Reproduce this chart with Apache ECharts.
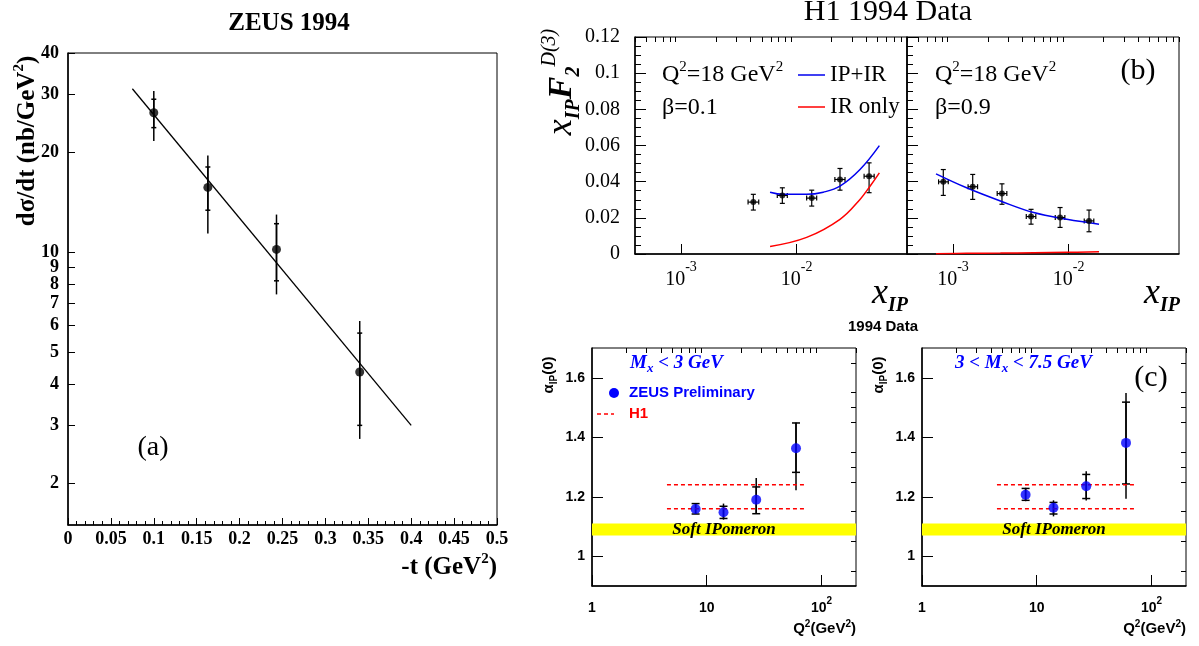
<!DOCTYPE html>
<html>
<head>
<meta charset="utf-8">
<script src="https://cdn.jsdelivr.net/npm/echarts@6/dist/echarts.min.js"></script>
<style>html,body{margin:0;padding:0;background:#fff}#main{width:1199px;height:646px}</style>
</head>
<body>
<div id="main"></div>
<script>
var serif = "'Liberation Serif', 'Times New Roman', serif";
var sans = "'Liberation Sans', Arial, sans-serif";

// ---------- (a) ZEUS 1994 dsigma/dt ----------
var tVals = [0.1, 0.163, 0.243, 0.34];
var dsdt = [26.4, 15.7, 10.2, 4.35];
var dsdtStatLo = [23.8, 13.4, 8.2, 3.0];
var dsdtStatHi = [29.0, 18.1, 12.2, 5.7];
var dsdtTotLo = [21.7, 11.4, 7.46, 2.73];
var dsdtTotHi = [30.7, 19.6, 13.0, 6.2];
var fitT = [0.075, 0.4];
var fitVals = [31.2, 3.0];
var aYTicks = [2, 3, 4, 5, 6, 7, 8, 9, 10, 20, 30, 40];

// ---------- (b) H1 1994 F2D3 ----------
var b1X = [0.00422, 0.00752, 0.0135, 0.0237, 0.0423];
var b1XLo = [0.0038, 0.0068, 0.0122, 0.0214, 0.0383];
var b1XHi = [0.0047, 0.0083, 0.0149, 0.0262, 0.0468];
var b1F = [0.0287, 0.0324, 0.0309, 0.0412, 0.043];
var b1FLo = [0.0243, 0.028, 0.0265, 0.0353, 0.0339];
var b1FHi = [0.033, 0.0366, 0.0353, 0.0473, 0.0504];
var b1CurveX = [0.00589, 0.00767, 0.0122, 0.017, 0.0237, 0.0353, 0.0519];
var b1Total = [0.0342, 0.033, 0.033, 0.0342, 0.0375, 0.0467, 0.0599];
var b1RedX = [0.00589, 0.0122, 0.0237, 0.0353, 0.0431, 0.0519];
var b1Red = [0.0042, 0.0092, 0.0192, 0.0302, 0.0375, 0.0449];

var b2X = [0.000824, 0.00148, 0.00265, 0.00473, 0.00843, 0.015];
var b2XLo = [0.00075, 0.00135, 0.00241, 0.0043, 0.00766, 0.01364];
var b2XHi = [0.00091, 0.00163, 0.00292, 0.0052, 0.00927, 0.0165];
var b2F = [0.0399, 0.0372, 0.0334, 0.0207, 0.0202, 0.0183];
var b2FLo = [0.0324, 0.0302, 0.0275, 0.0165, 0.0147, 0.0123];
var b2FHi = [0.0467, 0.044, 0.0388, 0.0247, 0.0257, 0.0243];
var b2CurveX = [0.000713, 0.00131, 0.00257, 0.00499, 0.00964, 0.0183];
var b2Total = [0.0443, 0.0366, 0.0293, 0.0229, 0.0192, 0.0165];
var b2Red = [0.0002, 0.0004, 0.0005, 0.0007, 0.0009, 0.0012];

var bDecades = [0.001, 0.01];
var bMinor = [0.0004, 0.0005, 0.0006, 0.0007, 0.0008, 0.0009,
  0.002, 0.003, 0.004, 0.005, 0.006, 0.007, 0.008, 0.009,
  0.02, 0.03, 0.04, 0.05, 0.06, 0.07, 0.08, 0.09];

// ---------- (c) alpha_IP(0) ----------
var q2 = [8, 14, 27, 60];
var c1Alpha = [1.159, 1.148, 1.19, 1.363];
var c1StatLo = [1.142, 1.127, 1.143, 1.282];
var c1StatHi = [1.177, 1.168, 1.233, 1.448];
var c1TotLo = [1.142, 1.123, 1.143, 1.222];
var c1TotHi = [1.179, 1.177, 1.263, 1.45];
var c2Alpha = [1.207, 1.163, 1.235, 1.381];
var c2StatLo = [1.188, 1.142, 1.194, 1.243];
var c2StatHi = [1.228, 1.181, 1.275, 1.518];
var c2TotLo = [1.185, 1.134, 1.187, 1.193];
var c2TotHi = [1.23, 1.188, 1.286, 1.549];
var h1Q2 = [4.5, 72];
var h1Lo = [1.16, 1.16];
var h1Hi = [1.24, 1.24];
var softBand = [1.07, 1.11];
var cDecades = [1, 10, 100];
var cMinorX = [2, 3, 4, 5, 6, 7, 8, 9, 20, 30, 40, 50, 60, 70, 80, 90, 200];
var cYTicks = [1, 1.2, 1.4, 1.6];
var cYMinor = [0.95, 1.05, 1.1, 1.15, 1.25, 1.3, 1.35, 1.45, 1.5, 1.55, 1.65];

function pts(xs, ys) { return xs.map(function (x, i) { return [x, ys[i]]; }); }
function bars(xs, lo, hi) { return xs.map(function (x, i) { return [x, lo[i], hi[i]]; }); }
function hbars(lo, hi, ys) { return ys.map(function (y, i) { return [lo[i], hi[i], y]; }); }

function vErr(cap, w) {
  return function (params, api) {
    var x = api.value(0);
    var a = api.coord([x, api.value(1)]);
    var b = api.coord([x, api.value(2)]);
    var st = { stroke: '#000', lineWidth: w };
    var ch = [{ type: 'line', shape: { x1: a[0], y1: a[1], x2: b[0], y2: b[1] }, style: st }];
    if (cap) {
      ch.push({ type: 'line', shape: { x1: a[0] - cap, y1: a[1], x2: a[0] + cap, y2: a[1] }, style: st });
      ch.push({ type: 'line', shape: { x1: b[0] - cap, y1: b[1], x2: b[0] + cap, y2: b[1] }, style: st });
    }
    return { type: 'group', children: ch };
  };
}
function hErr(cap, w) {
  return function (params, api) {
    var y = api.value(2);
    var a = api.coord([api.value(0), y]);
    var b = api.coord([api.value(1), y]);
    var st = { stroke: '#000', lineWidth: w };
    return { type: 'group', children: [
      { type: 'line', shape: { x1: a[0], y1: a[1], x2: b[0], y2: b[1] }, style: st },
      { type: 'line', shape: { x1: a[0], y1: a[1] - cap, x2: a[0], y2: a[1] + cap }, style: st },
      { type: 'line', shape: { x1: b[0], y1: b[1] - cap, x2: b[0], y2: b[1] + cap }, style: st }
    ] };
  };
}
function band(params, api) {
  var cs = params.coordSys;
  var y1 = api.coord([1, api.value(0)])[1];
  var y2 = api.coord([1, api.value(1)])[1];
  return { type: 'rect', shape: { x: cs.x, y: y2, width: cs.width, height: y1 - y2 }, style: { fill: '#ffff00' } };
}

var black = { color: '#000', width: 1.5 };
function powLabel(v) { return '{m|10}{s|' + Math.round(Math.log10(v)) + '}'; }
function cLabel(v) { return v === 100 ? '{m|10}{s|2}' : '{m|' + v + '}'; }

function bXAxis(g) {
  return [{
    gridIndex: g, type: 'log', min: 0.0004, max: 0.09,
    axisLine: { lineStyle: black },
    axisTick: { inside: true, length: 10, customValues: bDecades, lineStyle: { color: '#000' } },
    axisLabel: { customValues: bDecades, formatter: powLabel, margin: 6, color: '#000',
      rich: { m: { fontFamily: serif, fontSize: 20, lineHeight: 40, color: '#000' },
              s: { fontFamily: serif, fontSize: 14, lineHeight: 14, verticalAlign: 'top', color: '#000' } } },
    splitLine: { show: false }
  }, {
    gridIndex: g, type: 'log', min: 0.0004, max: 0.09,
    axisLine: { show: false },
    axisTick: { inside: true, length: 5, customValues: bMinor, lineStyle: { color: '#000' } },
    axisLabel: { show: false }, splitLine: { show: false }
  }];
}
function cXAxis(g) {
  return [{
    gridIndex: g, type: 'log', min: 1, max: 200,
    axisLine: { lineStyle: black },
    axisTick: { inside: true, length: 11, customValues: cDecades, lineStyle: { color: '#000' } },
    axisLabel: { customValues: cDecades, formatter: cLabel, margin: 10, color: '#000',
      rich: { m: { fontFamily: sans, fontWeight: 'bold', fontSize: 14, lineHeight: 24, color: '#000' },
              s: { fontFamily: sans, fontWeight: 'bold', fontSize: 10, lineHeight: 10, verticalAlign: 'top', color: '#000' } } },
    splitLine: { show: false }
  }, {
    gridIndex: g, type: 'log', min: 1, max: 200,
    axisLine: { show: false },
    axisTick: { inside: true, length: 5, customValues: cMinorX, lineStyle: { color: '#000' } },
    axisLabel: { show: false }, splitLine: { show: false }
  }];
}
function bYAxis(g, labels) {
  return {
    gridIndex: g, type: 'value', min: 0, max: 0.12, interval: 0.02,
    axisLine: { lineStyle: black },
    axisTick: { inside: true, length: 11, lineStyle: { color: '#000' } },
    minorTick: { show: true, splitNumber: 4, length: 6, lineStyle: { color: '#000' } },
    axisLabel: { show: labels, fontFamily: serif, fontSize: 20, margin: 15, color: '#000' },
    splitLine: { show: false }, minorSplitLine: { show: false }
  };
}
function cYAxis(g) {
  return [{
    gridIndex: g, type: 'value', min: 0.9, max: 1.7,
    axisLine: { lineStyle: black },
    axisTick: { inside: true, length: 11, customValues: cYTicks, lineStyle: { color: '#000' } },
    axisLabel: { customValues: cYTicks, fontFamily: sans, fontWeight: 'bold', fontSize: 14, margin: 7, color: '#000' },
    splitLine: { show: false }
  }, {
    gridIndex: g, type: 'value', min: 0.9, max: 1.7,
    axisLine: { show: false },
    axisTick: { inside: true, length: 5, customValues: cYMinor, lineStyle: { color: '#000' } },
    axisLabel: { show: false }, splitLine: { show: false }
  }];
}

function gridBox(l, t, w, h) {
  return { left: l, top: t, width: w, height: h, show: true, borderColor: '#000', borderWidth: 1,
           backgroundColor: 'transparent', containLabel: false, outerBoundsMode: 'none' };
}

function txt(x, y, text, font, opts) {
  opts = opts || {};
  return {
    type: 'text', x: x, y: y, rotation: opts.rot || 0, z: 100,
    style: { text: text, font: font, fill: opts.fill || '#000', align: opts.align || 'left',
             verticalAlign: 'middle', rich: opts.rich }
  };
}
function richSet(family, size, weight, style, color, subSize) {
  return {
    m: { fontFamily: family, fontSize: size, fontWeight: weight, fontStyle: style, fill: color, lineHeight: size * 1.3 },
    s: { fontFamily: family, fontSize: subSize, fontWeight: weight, fontStyle: style, fill: color, lineHeight: subSize, verticalAlign: 'top' },
    b: { fontFamily: family, fontSize: subSize, fontWeight: weight, fontStyle: style, fill: color, lineHeight: subSize, verticalAlign: 'bottom' }
  };
}
var xipRich = {
  m: { fontFamily: serif, fontSize: 36, fontStyle: 'italic', lineHeight: 44, fill: '#000' },
  b: { fontFamily: serif, fontSize: 20, fontStyle: 'italic', fontWeight: 'bold', lineHeight: 20, verticalAlign: 'bottom', fill: '#000' }
};

var chart = echarts.init(document.getElementById('main'));

var option = {
  backgroundColor: '#fff',
  animation: false,
  grid: [
    gridBox(68, 53, 429, 472),
    gridBox(635, 37, 272, 217),
    gridBox(907, 37, 272, 217),
    gridBox(592, 348, 264, 238),
    gridBox(922, 348, 264, 238)
  ],
  xAxis: [{
    gridIndex: 0, type: 'value', min: 0, max: 0.5, interval: 0.05,
    axisLine: { lineStyle: black },
    axisTick: { inside: true, length: 7, lineStyle: { color: '#000' } },
    minorTick: { show: true, splitNumber: 5, length: 4, lineStyle: { color: '#000' } },
    axisLabel: { fontFamily: serif, fontWeight: 'bold', fontSize: 18, margin: 5, color: '#000' },
    splitLine: { show: false }, minorSplitLine: { show: false }
  }].concat(bXAxis(1), bXAxis(2), cXAxis(3), cXAxis(4)),
  yAxis: [{
    gridIndex: 0, type: 'log', min: 1.5, max: 40,
    axisLine: { lineStyle: black },
    axisTick: { inside: true, length: 7, customValues: aYTicks, lineStyle: { color: '#000' } },
    axisLabel: { customValues: aYTicks, fontFamily: serif, fontWeight: 'bold', fontSize: 18, margin: 9, color: '#000', hideOverlap: false },
    splitLine: { show: false }
  }, bYAxis(1, true), bYAxis(2, false)].concat(cYAxis(3), cYAxis(4)),
  series: [
    // (a)
    { type: 'line', xAxisIndex: 0, yAxisIndex: 0, data: pts(fitT, fitVals), symbol: 'none', lineStyle: { color: '#000', width: 1.3 } },
    { type: 'custom', xAxisIndex: 0, yAxisIndex: 0, renderItem: vErr(0, 1.5), encode: { x: 0, y: [1, 2] }, data: bars(tVals, dsdtTotLo, dsdtTotHi) },
    { type: 'custom', xAxisIndex: 0, yAxisIndex: 0, renderItem: vErr(2.5, 1.5), encode: { x: 0, y: [1, 2] }, data: bars(tVals, dsdtStatLo, dsdtStatHi) },
    { type: 'scatter', xAxisIndex: 0, yAxisIndex: 0, data: pts(tVals, dsdt), symbolSize: 9, itemStyle: { color: '#000' }, z: 5 },
    // (b) beta=0.1
    { type: 'line', xAxisIndex: 1, yAxisIndex: 1, data: pts(b1CurveX, b1Total), smooth: 0.4, symbol: 'none', lineStyle: { color: '#0000ee', width: 1.5 } },
    { type: 'line', xAxisIndex: 1, yAxisIndex: 1, data: pts(b1RedX, b1Red), smooth: 0.4, symbol: 'none', lineStyle: { color: '#ff0000', width: 1.5 } },
    { type: 'custom', xAxisIndex: 1, yAxisIndex: 1, renderItem: vErr(2.5, 1.2), encode: { x: 0, y: [1, 2] }, data: bars(b1X, b1FLo, b1FHi) },
    { type: 'custom', xAxisIndex: 1, yAxisIndex: 1, renderItem: hErr(2.5, 1.2), encode: { x: [0, 1], y: 2 }, data: hbars(b1XLo, b1XHi, b1F) },
    { type: 'scatter', xAxisIndex: 1, yAxisIndex: 1, data: pts(b1X, b1F), symbolSize: 6, itemStyle: { color: '#000' }, z: 5 },
    // (b) beta=0.9
    { type: 'line', xAxisIndex: 3, yAxisIndex: 2, data: pts(b2CurveX, b2Total), smooth: 0.4, symbol: 'none', lineStyle: { color: '#0000ee', width: 1.5 } },
    { type: 'line', xAxisIndex: 3, yAxisIndex: 2, data: pts(b2CurveX, b2Red), smooth: 0.4, symbol: 'none', lineStyle: { color: '#ff0000', width: 1.5 } },
    { type: 'custom', xAxisIndex: 3, yAxisIndex: 2, renderItem: vErr(2.5, 1.2), encode: { x: 0, y: [1, 2] }, data: bars(b2X, b2FLo, b2FHi) },
    { type: 'custom', xAxisIndex: 3, yAxisIndex: 2, renderItem: hErr(2.5, 1.2), encode: { x: [0, 1], y: 2 }, data: hbars(b2XLo, b2XHi, b2F) },
    { type: 'scatter', xAxisIndex: 3, yAxisIndex: 2, data: pts(b2X, b2F), symbolSize: 6, itemStyle: { color: '#000' }, z: 5 },
    // (c) Mx < 3
    { type: 'custom', xAxisIndex: 5, yAxisIndex: 3, renderItem: band, encode: { y: [0, 1] }, data: [softBand] },
    { type: 'line', xAxisIndex: 5, yAxisIndex: 3, data: pts(h1Q2, h1Lo), symbol: 'none', lineStyle: { color: '#ff0000', width: 1.5, type: [4, 3] } },
    { type: 'line', xAxisIndex: 5, yAxisIndex: 3, data: pts(h1Q2, h1Hi), symbol: 'none', lineStyle: { color: '#ff0000', width: 1.5, type: [4, 3] } },
    { type: 'custom', xAxisIndex: 5, yAxisIndex: 3, renderItem: vErr(0, 1.5), encode: { x: 0, y: [1, 2] }, data: bars(q2, c1TotLo, c1TotHi) },
    { type: 'custom', xAxisIndex: 5, yAxisIndex: 3, renderItem: vErr(4, 1.5), encode: { x: 0, y: [1, 2] }, data: bars(q2, c1StatLo, c1StatHi) },
    { type: 'scatter', xAxisIndex: 5, yAxisIndex: 3, data: pts(q2, c1Alpha), symbolSize: 10, itemStyle: { color: '#0000ff' }, z: 5 },
    // (c) 3 < Mx < 7.5
    { type: 'custom', xAxisIndex: 7, yAxisIndex: 5, renderItem: band, encode: { y: [0, 1] }, data: [softBand] },
    { type: 'line', xAxisIndex: 7, yAxisIndex: 5, data: pts(h1Q2, h1Lo), symbol: 'none', lineStyle: { color: '#ff0000', width: 1.5, type: [4, 3] } },
    { type: 'line', xAxisIndex: 7, yAxisIndex: 5, data: pts(h1Q2, h1Hi), symbol: 'none', lineStyle: { color: '#ff0000', width: 1.5, type: [4, 3] } },
    { type: 'custom', xAxisIndex: 7, yAxisIndex: 5, renderItem: vErr(0, 1.5), encode: { x: 0, y: [1, 2] }, data: bars(q2, c2TotLo, c2TotHi) },
    { type: 'custom', xAxisIndex: 7, yAxisIndex: 5, renderItem: vErr(4, 1.5), encode: { x: 0, y: [1, 2] }, data: bars(q2, c2StatLo, c2StatHi) },
    { type: 'scatter', xAxisIndex: 7, yAxisIndex: 5, data: pts(q2, c2Alpha), symbolSize: 10, itemStyle: { color: '#0000ff' }, z: 5 }
  ],
  graphic: [
    // (a) texts
    txt(289, 24, 'ZEUS 1994', 'bold 25px ' + serif, { align: 'center' }),
    txt(28, 141, '{m|dσ/dt (nb/GeV}{s|2}{m|)}', 'bold 25px ' + serif,
        { align: 'center', rot: Math.PI / 2, rich: richSet(serif, 25, 'bold', 'normal', '#000', 15) }),
    txt(497, 568, '{m|-t (GeV}{s|2}{m|)}', 'bold 25px ' + serif,
        { align: 'right', rich: richSet(serif, 25, 'bold', 'normal', '#000', 15) }),
    txt(153, 448, '(a)', '28px ' + serif, { align: 'center' }),
    // (b) texts
    txt(888, 12, 'H1 1994 Data', '30px ' + serif, { align: 'center' }),
    txt(562, 82, '{x|x}{b|IP}{m|F}{b|2}{s|D(3)}', 'italic 34px ' + serif,
        { align: 'center', rot: Math.PI / 2, rich: {
          x: { fontFamily: serif, fontSize: 36, fontStyle: 'italic', lineHeight: 44, fill: '#000' },
          m: { fontFamily: serif, fontSize: 34, fontStyle: 'italic', fontWeight: 'bold', lineHeight: 44, fill: '#000' },
          b: { fontFamily: serif, fontSize: 20, fontStyle: 'italic', fontWeight: 'bold', lineHeight: 20, verticalAlign: 'bottom', fill: '#000' },
          s: { fontFamily: serif, fontSize: 20, fontStyle: 'italic', lineHeight: 20, verticalAlign: 'top', fill: '#000' } } }),
    txt(872, 294, '{m|x}{b|IP}', 'italic 36px ' + serif, { rich: xipRich }),
    txt(1144, 294, '{m|x}{b|IP}', 'italic 36px ' + serif, { rich: xipRich }),
    txt(662, 75, '{m|Q}{s|2}{m|=18 GeV}{s|2}', '24px ' + serif, { rich: richSet(serif, 24, 'normal', 'normal', '#000', 15) }),
    txt(662, 108, 'β=0.1', '24px ' + serif),
    txt(935, 75, '{m|Q}{s|2}{m|=18 GeV}{s|2}', '24px ' + serif, { rich: richSet(serif, 24, 'normal', 'normal', '#000', 15) }),
    txt(935, 108, 'β=0.9', '24px ' + serif),
    { type: 'line', shape: { x1: 798, y1: 75, x2: 825, y2: 75 }, style: { stroke: '#0000ee', lineWidth: 1.5 } },
    { type: 'line', shape: { x1: 798, y1: 107, x2: 825, y2: 107 }, style: { stroke: '#ff0000', lineWidth: 1.5 } },
    txt(830, 75, 'IP+IR', '23px ' + serif),
    txt(830, 107, 'IR only', '23px ' + serif),
    txt(1138, 71, '(b)', '30px ' + serif, { align: 'center' }),
    // (c) texts
    txt(883, 327, '1994 Data', 'bold 15px ' + sans, { align: 'center' }),
    txt(549, 375, '{m|α}{b|IP}{m|(0)}', 'bold 15px ' + sans,
        { align: 'center', rot: Math.PI / 2, rich: richSet(sans, 15, 'bold', 'normal', '#000', 10) }),
    txt(879, 375, '{m|α}{b|IP}{m|(0)}', 'bold 15px ' + sans,
        { align: 'center', rot: Math.PI / 2, rich: richSet(sans, 15, 'bold', 'normal', '#000', 10) }),
    txt(856, 629, '{m|Q}{s|2}{m|(GeV}{s|2}{m|)}', 'bold 15px ' + sans,
        { align: 'right', rich: richSet(sans, 15, 'bold', 'normal', '#000', 10) }),
    txt(1186, 629, '{m|Q}{s|2}{m|(GeV}{s|2}{m|)}', 'bold 15px ' + sans,
        { align: 'right', rich: richSet(sans, 15, 'bold', 'normal', '#000', 10) }),
    txt(630, 363, '{m|M}{b|x}{m| < 3 GeV}', 'bold italic 19px ' + serif,
        { fill: '#0000ff', rich: richSet(serif, 19, 'bold', 'italic', '#0000ff', 13) }),
    txt(955, 363, '{m|3 < M}{b|x}{m| < 7.5 GeV}', 'bold italic 19px ' + serif,
        { fill: '#0000ff', rich: richSet(serif, 19, 'bold', 'italic', '#0000ff', 13) }),
    { type: 'circle', shape: { cx: 614, cy: 393, r: 5 }, style: { fill: '#0000ff' }, z: 100 },
    txt(629, 393, 'ZEUS Preliminary', 'bold 15px ' + sans, { fill: '#0000ff' }),
    { type: 'line', shape: { x1: 597, y1: 414, x2: 614, y2: 414 }, style: { stroke: '#ff0000', lineWidth: 1.5, lineDash: [4, 3] }, z: 100 },
    txt(629, 414, 'H1', 'bold 15px ' + sans, { fill: '#ff0000' }),
    txt(724, 530, 'Soft IPomeron', 'bold italic 17px ' + serif, { align: 'center' }),
    txt(1054, 530, 'Soft IPomeron', 'bold italic 17px ' + serif, { align: 'center' }),
    txt(1151, 378, '(c)', '30px ' + serif, { align: 'center' })
  ]
};
chart.setOption(option);
</script>
</body>
</html>
